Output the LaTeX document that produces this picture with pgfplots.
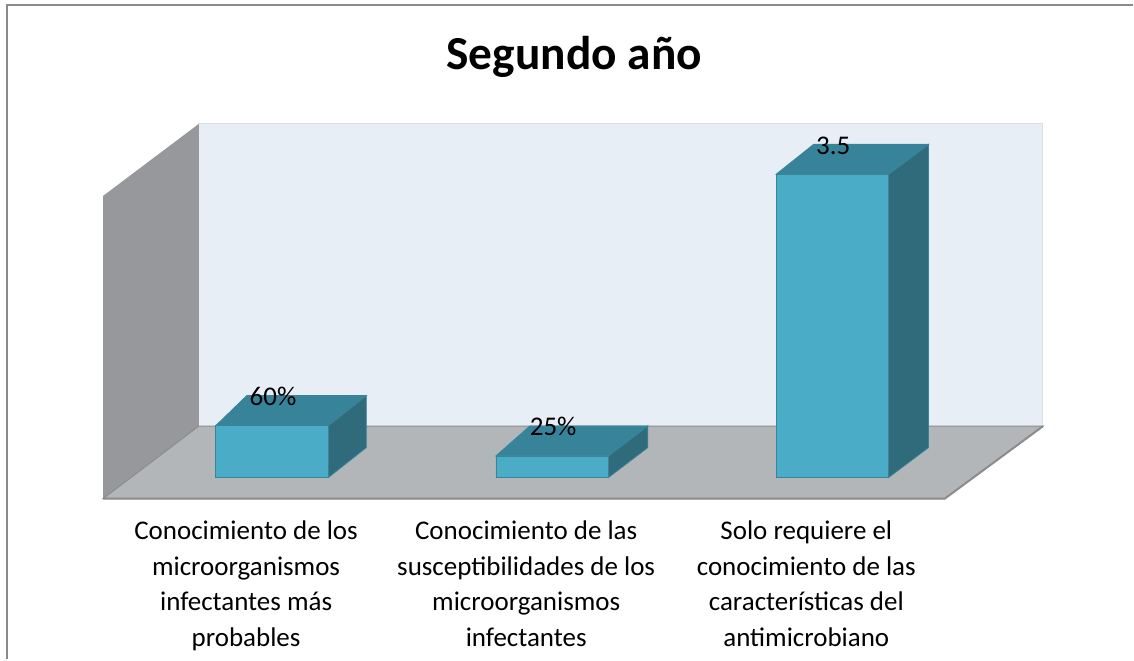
\documentclass[border=0pt]{standalone}
\usepackage{fontspec}
\setmainfont{Carlito}
\usepackage{pgfplots}
\pgfplotsset{compat=1.18}
\definecolor{frontc}{HTML}{4AACC6}
\definecolor{topc}{HTML}{37849A}
\definecolor{sidec}{HTML}{2F6B7A}
\definecolor{edgec}{HTML}{3A8499}
\definecolor{backwall}{HTML}{E8EEF5}
\definecolor{backline}{HTML}{D8DFE8}
\definecolor{leftwall}{HTML}{96989C}
\definecolor{floorc}{HTML}{B3B6B9}
\definecolor{floorline}{HTML}{8C8C8C}
\definecolor{framec}{HTML}{8A8A8A}
\begin{document}
\begin{tikzpicture}
\begin{axis}[
  x=140.175pt, y=43.355pt,
  xmin=-0.97129, xmax=3.07366, ymin=-0.2422, ymax=5.51263,
  enlargelimits=false, clip=false,
  axis line style={draw=none}, tick style={draw=none},
  ytick=\empty,
  xtick={0,1,2},
  xticklabels={{Conocimiento de los\\microorganismos\\infectantes más\\probables},
               {Conocimiento de las\\susceptibilidades de los\\microorganismos\\infectantes},
               {Solo requiere el\\conocimiento de las\\características del\\antimicrobiano}},
  xticklabel style={align=center, font=\fontsize{13.5}{17.7}\selectfont, xshift=-13pt, yshift=-7.8pt, text=black},
]
% back wall
\addplot[fill=backwall, draw=backline, line width=0.5pt] coordinates {(-0.2615,0.5939) (2.7491,0.5939) (2.7491,4.0826) (-0.2615,4.0826)} -- cycle;
% left wall
\addplot[fill=leftwall, draw=none] coordinates {(-0.6028,-0.2422) (-0.2615,0.5939) (-0.2615,4.0826) (-0.6028,3.2522)} -- cycle;
% floor
\addplot[fill=floorc, draw=floorline, line width=0.5pt] coordinates {(-0.6028,-0.2422) (-0.2615,0.5939) (2.7527,0.5939) (2.4020,-0.2422)} -- cycle;
\addplot[draw=floorline, line width=1pt] coordinates {(-0.6028,-0.2422) (2.4020,-0.2422) (2.7527,0.5939)};
% side faces
\addplot[fill=sidec, draw=edgec, line width=0.4pt] coordinates {(0.2008,0) (0.2008,0.6) (0.3363,0.946) (0.3363,0.346)} -- cycle;
\addplot[fill=sidec, draw=edgec, line width=0.4pt] coordinates {(1.2008,0) (1.2008,0.25) (1.3413,0.596) (1.3413,0.346)} -- cycle;
\addplot[fill=sidec, draw=edgec, line width=0.4pt] coordinates {(2.2008,0) (2.2008,3.5) (2.3435,3.846) (2.3435,0.346)} -- cycle;
% top faces
\addplot[fill=topc, draw=edgec, line width=0.4pt] coordinates {(-0.2008,0.6) (0.2008,0.6) (0.3363,0.946) (-0.0902,0.946)} -- cycle;
\addplot[fill=topc, draw=edgec, line width=0.4pt] coordinates {(0.7992,0.25) (1.2008,0.25) (1.3413,0.596) (0.9205,0.596)} -- cycle;
\addplot[fill=topc, draw=edgec, line width=0.4pt] coordinates {(1.7992,3.5) (2.2008,3.5) (2.3435,3.846) (1.9333,3.846)} -- cycle;
% front faces
\addplot[ybar, bar width=56.3pt, fill=frontc, draw=edgec, line width=0.4pt,
  nodes near coords, point meta=explicit symbolic,
  every node near coord/.style={anchor=base, font=\fontsize{13.5}{15}\selectfont, text=black, yshift=10pt, xshift=0.5pt}]
  coordinates {(0,0.6) [60\%] (1,0.25) [25\%] (2,3.5) [3.5]};
% title
\node[font=\bfseries\fontsize{23.7}{28}\selectfont, anchor=base] at (axis cs:1.0787,4.7134) {Segundo año};
% frame
\draw[framec, line width=1pt] (axis cs:-0.94632,-2.09895) -- (axis cs:-0.94632,5.44920) -- (axis cs:3.07366,5.44920);
\path (axis cs:-0.97129,-2.09895) rectangle (axis cs:3.07366,5.51263);
\end{axis}
\end{tikzpicture}
\end{document}
